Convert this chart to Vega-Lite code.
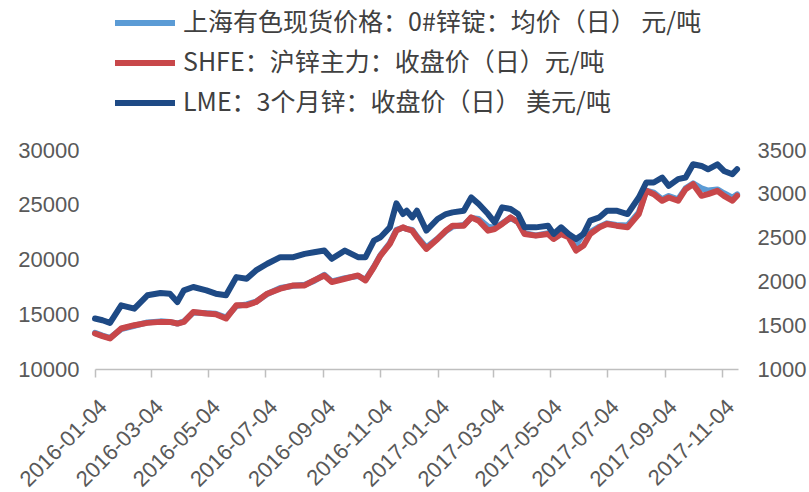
{
  "$schema": "https://vega.github.io/schema/vega-lite/v6.json",
  "autosize": "none",
  "width": 643,
  "height": 219,
  "padding": {"left": 95, "top": 150, "right": 71, "bottom": 123},
  "background": "white",
  "config": {
    "view": {"stroke": null},
    "font": "Liberation Sans",
    "axis": {"labelColor": "#595959", "labelFontSize": 22, "grid": false, "titleColor": "#595959"}
  },
  "data": {"values": [
    {"date": "2016-01-04", "spot": 13300, "shfe": 13242, "lme": 1576},
    {"date": "2016-01-12", "spot": 13050, "shfe": 13000, "lme": 1557},
    {"date": "2016-01-20", "spot": 12850, "shfe": 12788, "lme": 1527},
    {"date": "2016-02-01", "spot": 13650, "shfe": 13697, "lme": 1727},
    {"date": "2016-02-15", "spot": 13950, "shfe": 14000, "lme": 1689},
    {"date": "2016-02-29", "spot": 14250, "shfe": 14212, "lme": 1841},
    {"date": "2016-03-14", "spot": 14350, "shfe": 14303, "lme": 1867},
    {"date": "2016-03-24", "spot": 14300, "shfe": 14303, "lme": 1860},
    {"date": "2016-04-01", "spot": 14150, "shfe": 14151, "lme": 1765},
    {"date": "2016-04-08", "spot": 14350, "shfe": 14300, "lme": 1898},
    {"date": "2016-04-18", "spot": 15150, "shfe": 15212, "lme": 1936},
    {"date": "2016-05-02", "spot": 15100, "shfe": 15060, "lme": 1898},
    {"date": "2016-05-12", "spot": 15050, "shfe": 15000, "lme": 1860},
    {"date": "2016-05-23", "spot": 14700, "shfe": 14606, "lme": 1841},
    {"date": "2016-06-03", "spot": 15750, "shfe": 15818, "lme": 2049},
    {"date": "2016-06-14", "spot": 15900, "shfe": 15818, "lme": 2030},
    {"date": "2016-06-24", "spot": 16150, "shfe": 16121, "lme": 2125},
    {"date": "2016-07-06", "spot": 16850, "shfe": 16878, "lme": 2201},
    {"date": "2016-07-20", "spot": 17400, "shfe": 17333, "lme": 2277},
    {"date": "2016-08-03", "spot": 17600, "shfe": 17636, "lme": 2277},
    {"date": "2016-08-15", "spot": 17700, "shfe": 17636, "lme": 2314},
    {"date": "2016-08-25", "spot": 18050, "shfe": 18090, "lme": 2333},
    {"date": "2016-09-05", "spot": 18600, "shfe": 18545, "lme": 2352},
    {"date": "2016-09-13", "spot": 18000, "shfe": 17939, "lme": 2258},
    {"date": "2016-09-27", "spot": 18300, "shfe": 18242, "lme": 2352},
    {"date": "2016-10-11", "spot": 18500, "shfe": 18545, "lme": 2277},
    {"date": "2016-10-19", "spot": 18150, "shfe": 18090, "lme": 2277},
    {"date": "2016-10-28", "spot": 19350, "shfe": 19302, "lme": 2466},
    {"date": "2016-11-04", "spot": 20400, "shfe": 20363, "lme": 2504},
    {"date": "2016-11-14", "spot": 21500, "shfe": 21423, "lme": 2617},
    {"date": "2016-11-21", "spot": 22700, "shfe": 22635, "lme": 2890},
    {"date": "2016-11-28", "spot": 22900, "shfe": 22938, "lme": 2769},
    {"date": "2016-12-02", "spot": 22800, "shfe": 22787, "lme": 2807},
    {"date": "2016-12-08", "spot": 22700, "shfe": 22635, "lme": 2731},
    {"date": "2016-12-13", "spot": 22100, "shfe": 22029, "lme": 2807},
    {"date": "2016-12-23", "spot": 21100, "shfe": 20969, "lme": 2580},
    {"date": "2017-01-04", "spot": 21900, "shfe": 21878, "lme": 2712},
    {"date": "2017-01-13", "spot": 22600, "shfe": 22635, "lme": 2769},
    {"date": "2017-01-20", "spot": 23000, "shfe": 23090, "lme": 2788},
    {"date": "2017-02-01", "spot": 23150, "shfe": 23090, "lme": 2807},
    {"date": "2017-02-09", "spot": 23800, "shfe": 23847, "lme": 2958},
    {"date": "2017-02-17", "spot": 23700, "shfe": 23544, "lme": 2883},
    {"date": "2017-02-27", "spot": 23000, "shfe": 22635, "lme": 2769},
    {"date": "2017-03-06", "spot": 22900, "shfe": 22787, "lme": 2674},
    {"date": "2017-03-14", "spot": 23300, "shfe": 23241, "lme": 2845},
    {"date": "2017-03-23", "spot": 23800, "shfe": 23847, "lme": 2826},
    {"date": "2017-03-31", "spot": 23400, "shfe": 23393, "lme": 2769},
    {"date": "2017-04-07", "spot": 22400, "shfe": 22332, "lme": 2617},
    {"date": "2017-04-19", "spot": 22200, "shfe": 22181, "lme": 2617},
    {"date": "2017-05-02", "spot": 22400, "shfe": 22332, "lme": 2636},
    {"date": "2017-05-08", "spot": 21950, "shfe": 21878, "lme": 2542},
    {"date": "2017-05-16", "spot": 22350, "shfe": 22332, "lme": 2617},
    {"date": "2017-05-24", "spot": 22200, "shfe": 22029, "lme": 2542},
    {"date": "2017-06-01", "spot": 21300, "shfe": 20817, "lme": 2485},
    {"date": "2017-06-09", "spot": 22400, "shfe": 21272, "lme": 2542},
    {"date": "2017-06-16", "spot": 22500, "shfe": 22332, "lme": 2693},
    {"date": "2017-06-26", "spot": 23000, "shfe": 22938, "lme": 2731},
    {"date": "2017-07-04", "spot": 23300, "shfe": 23241, "lme": 2807},
    {"date": "2017-07-14", "spot": 23150, "shfe": 23090, "lme": 2807},
    {"date": "2017-07-26", "spot": 23100, "shfe": 22938, "lme": 2769},
    {"date": "2017-08-07", "spot": 24300, "shfe": 24150, "lme": 2958},
    {"date": "2017-08-15", "spot": 26300, "shfe": 26271, "lme": 3129},
    {"date": "2017-08-23", "spot": 26100, "shfe": 25968, "lme": 3129},
    {"date": "2017-09-01", "spot": 25500, "shfe": 25362, "lme": 3186},
    {"date": "2017-09-08", "spot": 25800, "shfe": 25665, "lme": 3091},
    {"date": "2017-09-18", "spot": 25500, "shfe": 25362, "lme": 3167},
    {"date": "2017-09-26", "spot": 26500, "shfe": 26423, "lme": 3186},
    {"date": "2017-10-04", "spot": 26950, "shfe": 26877, "lme": 3337},
    {"date": "2017-10-13", "spot": 26500, "shfe": 25817, "lme": 3318},
    {"date": "2017-10-20", "spot": 26300, "shfe": 25968, "lme": 3280},
    {"date": "2017-10-30", "spot": 26400, "shfe": 26271, "lme": 3337},
    {"date": "2017-11-06", "spot": 26050, "shfe": 25817, "lme": 3261},
    {"date": "2017-11-15", "spot": 25650, "shfe": 25362, "lme": 3224},
    {"date": "2017-11-20", "spot": 25950, "shfe": 25817, "lme": 3280}
  ]},
  "encoding": {
    "x": {
      "field": "date", "type": "temporal",
      "scale": {"type": "utc", "domain": [{"year": 2016, "month": 1, "date": 4, "utc": true}, {"year": 2017, "month": 11, "date": 21, "utc": true}]},
      "axis": {
        "title": null,
        "labelExpr": "utcFormat(datum.value, '%Y-%m-%d')",
        "values": [
          {"year": 2016, "month": 1, "date": 4, "utc": true},
          {"year": 2016, "month": 3, "date": 4, "utc": true},
          {"year": 2016, "month": 5, "date": 4, "utc": true},
          {"year": 2016, "month": 7, "date": 4, "utc": true},
          {"year": 2016, "month": 9, "date": 4, "utc": true},
          {"year": 2016, "month": 11, "date": 4, "utc": true},
          {"year": 2017, "month": 1, "date": 4, "utc": true},
          {"year": 2017, "month": 3, "date": 4, "utc": true},
          {"year": 2017, "month": 5, "date": 4, "utc": true},
          {"year": 2017, "month": 7, "date": 4, "utc": true},
          {"year": 2017, "month": 9, "date": 4, "utc": true},
          {"year": 2017, "month": 11, "date": 4, "utc": true}
        ],
        "labelAngle": -45, "labelAlign": "right", "labelBaseline": "middle",
        "labelPadding": 26, "labelOffset": 8, "labelFontSize": 22, "labelOverlap": false, "labelFlush": false,
        "domainColor": "#BFBFBF", "domainWidth": 1.5, "tickColor": "#BFBFBF", "tickSize": 8, "tickWidth": 1.5
      }
    }
  },
  "layer": [
    {
      "layer": [
        {
          "mark": {"type": "line", "strokeWidth": 6, "strokeJoin": "round", "strokeCap": "round"},
          "encoding": {
            "y": {"field": "spot", "type": "quantitative"},
            "color": {"datum": "上海有色现货价格：0#锌锭：均价（日） 元/吨"}
          }
        },
        {
          "mark": {"type": "line", "strokeWidth": 6, "strokeJoin": "round", "strokeCap": "round"},
          "encoding": {
            "y": {"field": "shfe", "type": "quantitative"},
            "color": {"datum": "SHFE：沪锌主力：收盘价（日）元/吨"}
          }
        }
      ],
      "encoding": {
        "y": {
          "type": "quantitative",
          "scale": {"domain": [10000, 30000], "nice": false, "zero": false},
          "axis": {"orient": "left", "title": null, "values": [10000, 15000, 20000, 25000, 30000], "domain": false, "ticks": false, "labelPadding": 16, "format": "d"}
        }
      }
    },
    {
      "mark": {"type": "line", "strokeWidth": 6, "strokeJoin": "round", "strokeCap": "round"},
      "encoding": {
        "y": {
          "field": "lme", "type": "quantitative",
          "scale": {"domain": [1000, 3500], "nice": false, "zero": false},
          "axis": {"orient": "right", "title": null, "values": [1000, 1500, 2000, 2500, 3000, 3500], "domain": false, "ticks": false, "labelPadding": 19, "format": "d"}
        },
        "color": {
          "datum": "LME：3个月锌：收盘价（日） 美元/吨",
          "scale": {
            "domain": ["上海有色现货价格：0#锌锭：均价（日） 元/吨", "SHFE：沪锌主力：收盘价（日）元/吨", "LME：3个月锌：收盘价（日） 美元/吨"],
            "range": ["#5B9BD5", "#C8474A", "#1E4A85"]
          },
          "legend": {
            "title": null, "orient": "none", "legendX": 37, "legendY": -140, "direction": "vertical",
            "symbolType": "M-3,0H3", "symbolSize": 400, "symbolStrokeWidth": 6,
            "labelFont": "Noto Sans CJK SC", "labelFontSize": 25, "labelColor": "#404040",
            "labelOffset": 25, "rowPadding": 14, "labelLimit": 800
          }
        }
      }
    }
  ],
  "resolve": {"scale": {"y": "independent"}}
}
